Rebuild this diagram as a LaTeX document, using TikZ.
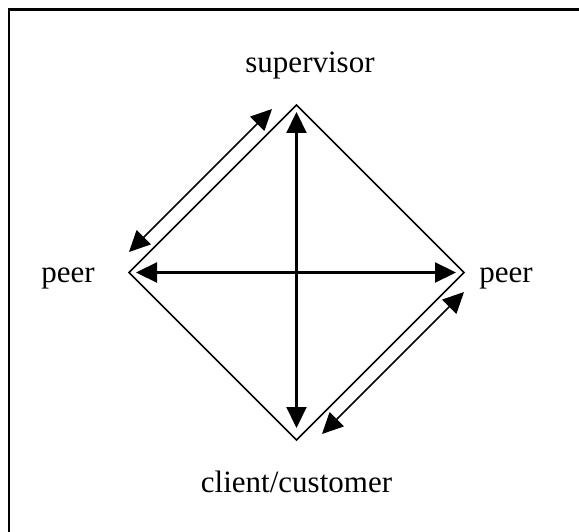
\documentclass[tikz,border=0pt]{standalone}
\usepackage{fontspec}
\setmainfont{Liberation Serif}
\usetikzlibrary{arrows.meta}
\begin{document}
\begin{tikzpicture}[x=1pt,y=-1pt,
  lbl/.style={font=\fontsize{31}{37}\selectfont, anchor=base, inner sep=0pt},
  edge/.style={line width=1.6pt, line join=miter},
  dbl/.style={line width=2.2pt, {Triangle[length=21pt,width=20pt]}-{Triangle[length=21pt,width=20pt]}},
  dbldiag/.style={line width=1.6pt, {Triangle[length=21pt,width=20pt]}-{Triangle[length=21pt,width=20pt]}},
  frame/.style={line width=2.6pt}]
\useasboundingbox (0,0) rectangle (579,532);
% frame (top and left sides visible)
\coordinate (f1) at (579,9.5);
\coordinate (f2) at (8.8,9.5);
\coordinate (f3) at (8.8,532);
\draw[frame] (f1) -- (f2) -- (f3);
% diamond corners
\coordinate (T) at (296.5,105);
\coordinate (L) at (129,272.5);
\coordinate (R) at (464,272.5);
\coordinate (B) at (296.5,440);
\draw[edge] (T) -- (R) -- (B) -- (L) -- cycle;
% arrow ends
\coordinate (va) at (296.5,112);
\coordinate (vb) at (296.5,428);
\coordinate (ha) at (136,272.5);
\coordinate (hb) at (456,272.5);
\coordinate (d1a) at (129,252);
\coordinate (d1b) at (272,109);
\coordinate (d2a) at (322,434);
\coordinate (d2b) at (464,292);
\draw[dbl] (va) -- (vb);
\draw[dbl] (ha) -- (hb);
\draw[dbldiag] (d1a) -- (d1b);
\draw[dbldiag] (d2a) -- (d2b);
% labels
\node[lbl] (sup) at (310,73) {supervisor};
\node[lbl] (cli) at (296.5,492) {client/customer};
\node[lbl] (pl) at (68,283) {peer};
\node[lbl] (pr) at (506,283) {peer};
\end{tikzpicture}
\end{document}
